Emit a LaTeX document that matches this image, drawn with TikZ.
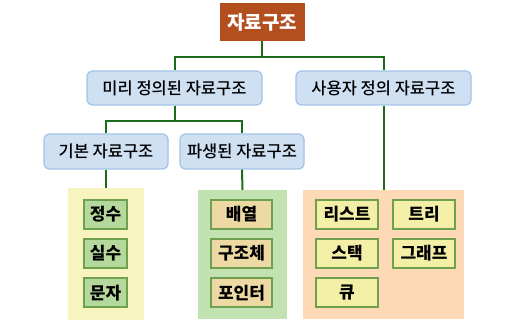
\documentclass[tikz,border=0pt]{standalone}
\usepackage{fontspec}
\setmainfont{Noto Sans CJK KR}
\newfontfamily\krmed{Noto Sans CJK KR Medium}
\definecolor{rootc}{HTML}{B34E1E}
\definecolor{linec}{HTML}{1B6B1B}
\definecolor{bluef}{HTML}{CFE0F3}
\definecolor{bluec}{HTML}{A3C3E6}
\definecolor{p1c}{HTML}{F7F4C0}
\definecolor{p2c}{HTML}{C2E2B2}
\definecolor{p3c}{HTML}{FDD9B5}
\definecolor{i1c}{HTML}{B5D99C}
\definecolor{i2c}{HTML}{EDD9A3}
\definecolor{i3c}{HTML}{F4EFA6}
\definecolor{itemb}{HTML}{6EA04E}
\begin{document}
\begin{tikzpicture}[x=1pt,y=-1pt,
  catbox/.style={draw=bluec, line width=1.2pt, fill=bluef, rounded corners=5pt, inner sep=0pt, font=\krmed\fontsize{16.5}{18}\selectfont},
  panel/.style={draw=none, inner sep=0pt},
  item/.style={draw=itemb, line width=2pt, inner sep=0pt, minimum height=29pt, font=\bfseries\fontsize{17}{19}\selectfont},
  conn/.style={draw=linec, line width=2pt}
]
\useasboundingbox (0,0) rectangle (528,328);
\node[fill=rootc, text=white, minimum width=85pt, minimum height=38pt, inner sep=0pt, font=\bfseries\fontsize{19}{21}\selectfont] (root) at (262,22) {자료구조};
\node[catbox, minimum width=175pt, minimum height=34pt] (b1) at (174.5,88) {미리 정의된 자료구조};
\node[catbox, minimum width=175pt, minimum height=34pt] (b2) at (383.5,88) {사용자 정의 자료구조};
\node[catbox, minimum width=124pt, minimum height=35pt] (b3) at (106,151.5) {기본 자료구조};
\node[catbox, minimum width=124pt, minimum height=35pt] (b4) at (242,151.5) {파생된 자료구조};
\node[panel, fill=p1c, minimum width=76pt, minimum height=132pt] (p1) at (106,254) {};
\node[panel, fill=p2c, minimum width=89pt, minimum height=129pt] (p2) at (242.5,254.5) {};
\node[panel, fill=p3c, minimum width=161pt, minimum height=129pt] (p3) at (383.5,254.5) {};
\node[item, fill=i1c, minimum width=43pt] (a1) at (105.5,214.5) {정수};
\node[item, fill=i1c, minimum width=43pt] (a2) at (105.5,253.5) {실수};
\node[item, fill=i1c, minimum width=43pt] (a3) at (105.5,293) {문자};
\node[item, fill=i2c, minimum width=61pt] (c1) at (241.5,214.5) {배열};
\node[item, fill=i2c, minimum width=61pt] (c2) at (241.5,253.5) {구조체};
\node[item, fill=i2c, minimum width=61pt] (c3) at (241.5,293) {포인터};
\node[item, fill=i3c, minimum width=62pt] (d1) at (347,214.5) {리스트};
\node[item, fill=i3c, minimum width=62pt] (d2) at (424,214.5) {트리};
\node[item, fill=i3c, minimum width=62pt] (d3) at (347,253.5) {스택};
\node[item, fill=i3c, minimum width=62pt] (d4) at (424,253.5) {그래프};
\node[item, fill=i3c, minimum width=62pt] (d5) at (347,293) {큐};
\coordinate (j1) at (262,57);
\coordinate (j2) at (174.5,121);
\draw[conn] (root.south) -- (j1);
\draw[conn] (b1.north) |- (j1) -| (b2.north);
\draw[conn] (b1.south) -- (j2);
\draw[conn] (b3.north) |- (j2) -| (b4.north);
\draw[conn] (b3.south) -- (p1.north);
\draw[conn] (b4.south) -- (p2.north);
\draw[conn] (b2.south) -- (p3.north);
\end{tikzpicture}
\end{document}
